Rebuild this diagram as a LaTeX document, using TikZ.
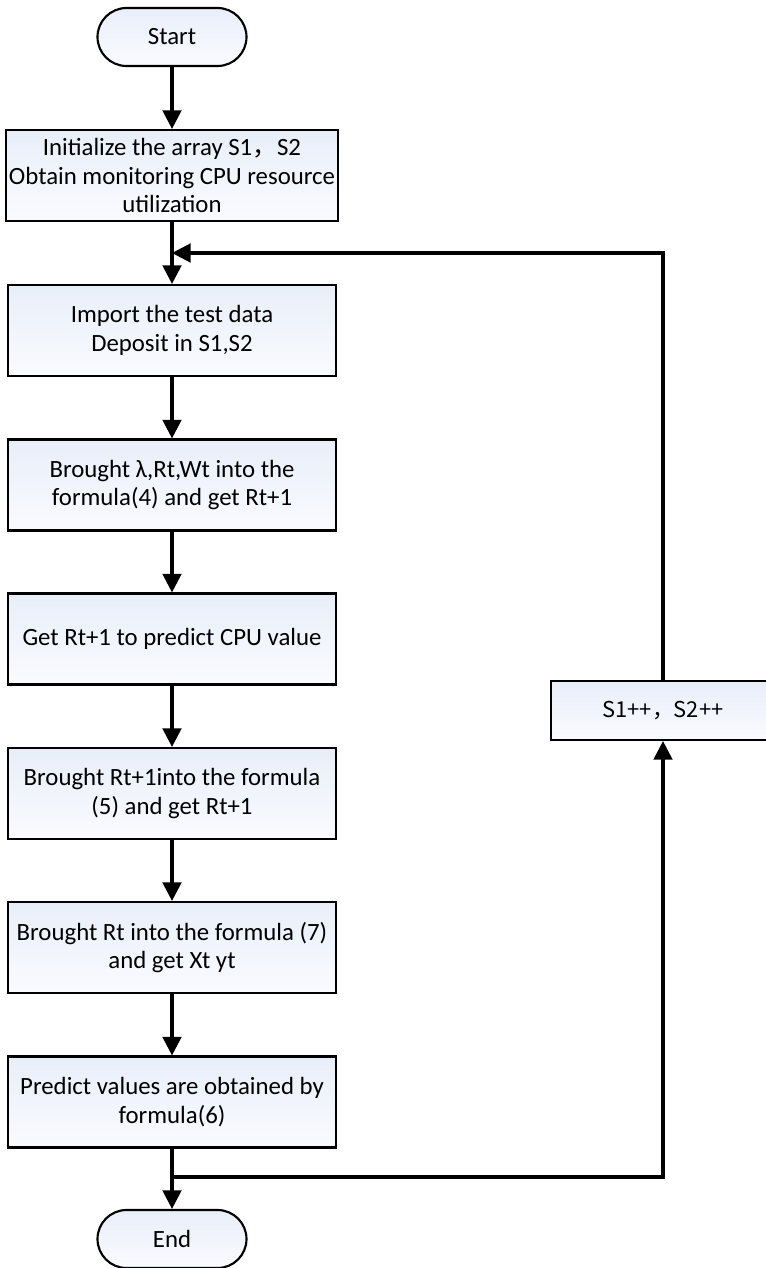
\documentclass[tikz,border=0pt]{standalone}
\usepackage{fontspec}
\setmainfont{Carlito}
\newfontfamily\cjkfont{Noto Sans CJK SC}
\usetikzlibrary{arrows.meta}

\tikzset{every picture/.style={line width=2.3pt}}
\tikzset{
  procbox/.style={draw, line width=1.6pt, top color=boxtop, bottom color=boxbot, align=center,
    minimum width=246pt, minimum height=68.25pt, inner sep=2pt},
  termbox/.style={draw, line width=1.6pt, top color=boxtop, bottom color=boxbot,
    minimum width=111.75pt, minimum height=43.5pt, rounded corners=21.75pt},
  flowarrow/.style={-{Triangle[length=14pt,width=14pt]}}
}
\definecolor{boxtop}{RGB}{232,238,249}
\definecolor{boxbot}{RGB}{250,251,255}

\begin{document}
\begin{tikzpicture}[x=0.75pt,y=0.75pt,yscale=-1,xscale=1,font=\fontsize{18.6}{21.5}\selectfont]
		\useasboundingbox (0,0) rectangle (766,1268);
		
		% Terminal: Start
		\node [termbox] (start) at (172,37) {Start};
		% Process boxes
		\node [procbox] (init) at (172,175.5) {Initialize the array S1{\cjkfont ，}S2\\Obtain monitoring CPU resource\\utilization};
		\node [procbox] (import) at (172,330.5) {Import the test data\\Deposit in S1,S2};
		\node [procbox] (brought1) at (172,485) {Brought λ,Rt,Wt into the\\formula(4) and get Rt+1};
		\node [procbox] (getrt) at (172,639) {Get Rt+1 to predict CPU value};
		\node [procbox] (brought2) at (172,793.5) {Brought Rt+1into the formula\\(5) and get Rt+1};
		\node [procbox] (brought3) at (172,947.5) {Brought Rt into the formula (7)\\and get Xt yt};
		\node [procbox] (predict) at (172,1102) {Predict values are obtained by\\formula(6)};
		% Terminal: End
		\node [termbox] (end) at (172,1239) {End};
		% Increment box (right edge runs off the page)
		\node [procbox, minimum width=168pt, minimum height=44.25pt, font=\cjkfont\fontsize{16.4}{19}\selectfont] (inc) at (663,710.5) {S1++，S2++};
		
		% Junctions
		\coordinate (loopin) at (172,253);
		\coordinate (loopout) at (172,1177);
		
		% Straight Lines
		\draw [flowarrow] (start) -- (init);
		\draw [flowarrow] (init) -- (import);
		\draw [flowarrow] (import) -- (brought1);
		\draw [flowarrow] (brought1) -- (getrt);
		\draw [flowarrow] (getrt) -- (brought2);
		\draw [flowarrow] (brought2) -- (brought3);
		\draw [flowarrow] (brought3) -- (predict);
		\draw [flowarrow] (predict) -- (end);
		
		% Loop back
		\draw [flowarrow] (loopout) -| (inc.south);
		\draw [flowarrow] (inc.north) |- (loopin);
		\end{tikzpicture}
\end{document}
